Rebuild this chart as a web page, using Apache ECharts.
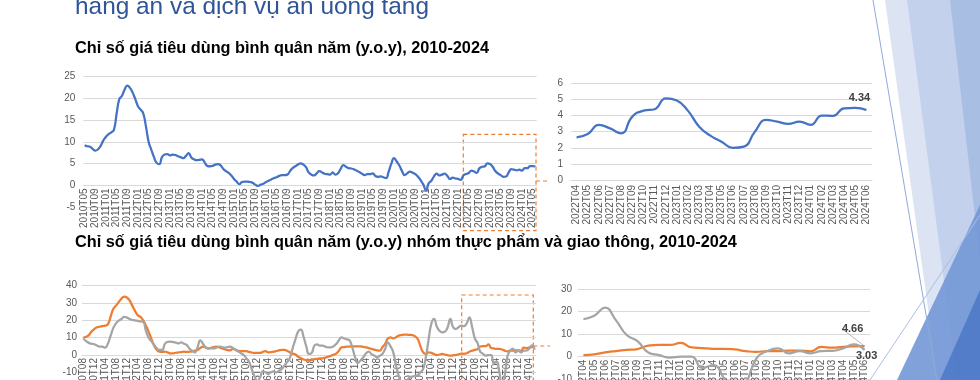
<!DOCTYPE html>
<html><head><meta charset="utf-8">
<script src="https://cdn.jsdelivr.net/npm/echarts@6/dist/echarts.min.js"></script>
<style>html,body{margin:0;padding:0;background:#fff}#c{width:980px;height:380px}</style>
</head><body><div id="c"></div>
<script>
// ---------- DATA ----------
const pageTitle = 'hàng ăn và dịch vụ ăn uống tăng';
const subtitle1 = 'Chỉ số giá tiêu dùng bình quân năm (y.o.y), 2010-2024';
const subtitle2 = 'Chỉ số giá tiêu dùng bình quân năm (y.o.y) nhóm thực phẩm và giao thông, 2010-2024';

// recent window categories 2022T04 – 2024T06
const recentMonths = ['2022T04','2022T05','2022T06','2022T07','2022T08','2022T09','2022T10','2022T11','2022T12',
  '2023T01','2023T02','2023T03','2023T04','2023T05','2023T06','2023T07','2023T08','2023T09','2023T10','2023T11','2023T12',
  '2024T01','2024T02','2024T03','2024T04','2024T05','2024T06'];

// CPI y.o.y, 2010T05 – 2022T03
const cpiHistory = [9.2,9.0,8.9,8.4,8.0,8.3,9.1,10.3,11.2,11.8,
  12.2,12.8,16.5,19.8,20.6,22.0,22.9,22.4,21.3,19.8,
  18.2,17.4,16.5,13.5,10.0,8.2,6.5,5.2,4.9,6.5,
  7.1,7.2,6.9,7.1,7.0,6.7,6.5,6.3,6.8,7.4,
  6.4,6.0,5.8,5.9,6.0,5.3,4.5,4.4,4.5,4.8,
  4.9,4.6,3.8,3.3,2.9,2.3,1.5,0.9,0.3,0.8,
  0.9,0.9,0.8,0.6,0.2,-0.1,0.2,0.4,0.8,1.1,
  1.4,1.7,1.9,2.2,2.4,2.4,2.5,3.3,4.0,4.4,
  4.8,5.1,4.8,4.2,3.0,2.5,2.3,2.8,3.3,3.0,
  2.7,2.6,2.5,3.0,2.5,2.8,3.8,4.7,4.3,4.0,
  3.9,3.7,3.4,3.1,2.7,2.4,2.6,2.6,2.8,2.2,
  2.0,2.1,1.9,1.7,3.2,5.0,6.3,5.5,4.6,3.3,
  2.4,2.8,3.2,2.9,2.6,2.0,1.2,0.2,-1.1,0.5,
  1.1,2.1,2.7,2.3,2.5,2.7,2.2,1.5,1.8,1.6,
  1.5,1.3,2.3];
// CPI y.o.y, 2022T04 – 2024T06
const cpiRecent = [2.65,2.86,3.42,3.2,2.9,3.93,4.3,4.39,5.07,4.93,4.29,3.31,2.75,2.38,2.0,2.07,3.0,3.73,3.62,3.48,3.62,3.42,4.0,3.98,4.45,4.47,4.34];

// Food (thực phẩm) y.o.y, 2010T08 – 2022T03
const foodHistory = [10.0,10.5,11.5,13.5,15.0,16.0,16.3,16.7,17.0,17.7,
  22.0,26.5,28.5,30.5,32.5,33.7,33.2,31.5,28.5,25.5,
  23.0,22.0,20.0,17.0,13.5,9.5,5.5,3.0,1.9,1.8,
  1.9,1.5,1.0,1.0,1.3,1.5,1.7,1.9,1.8,1.9,
  2.1,2.5,2.9,4.0,4.8,4.3,3.8,4.2,4.6,4.8,
  4.4,3.8,3.3,2.8,2.7,3.5,3.0,2.4,2.3,2.3,
  2.2,1.8,1.4,1.2,1.2,1.2,1.8,2.3,1.5,1.7,
  1.9,2.3,2.7,2.9,2.9,2.4,1.5,0.8,0.3,-1.0,
  -1.8,-2.6,-2.9,-3.2,-2.8,-2.4,-2.2,-2.0,-1.9,-1.5,
  -1.0,-0.5,0.2,0.8,2.5,4.4,4.6,4.8,4.9,5.0,
  5.0,5.0,5.0,4.7,4.4,4.0,3.5,3.1,2.7,2.5,
  4.5,6.5,9.5,10.2,9.6,10.2,11.2,11.5,11.7,11.7,
  11.6,11.5,10.8,9.2,5.0,1.5,0.6,1.5,1.2,0.5,
  0.0,0.3,0.6,0.3,-0.1,-0.4,-0.2,0.0,0.4,0.8];
// Transport (giao thông) y.o.y, 2010T08 – 2022T03
const transportHistory = [9.6,8.0,7.0,6.5,6.2,5.5,4.8,4.8,4.3,6.5,
  11.0,15.5,18.3,19.8,20.8,22.0,21.6,20.8,20.2,20.0,
  19.7,19.4,19.2,14.0,10.0,8.0,6.0,4.0,2.9,2.9,
  6.5,7.6,7.7,7.5,7.2,6.7,7.3,6.5,5.8,3.8,
  2.5,1.5,4.5,8.5,6.5,4.5,3.8,3.8,3.8,4.3,
  4.8,4.6,4.2,4.5,4.8,4.0,3.0,2.0,1.0,0.0,
  -2.0,-4.0,-8.5,-12.5,-15.0,-13.0,-9.5,-10.0,-11.0,-10.0,
  -9.5,-10.0,-9.0,-8.0,-6.0,-4.0,-1.5,4.0,9.0,13.5,
  14.6,10.5,5.0,0.6,1.2,5.5,6.2,5.4,5.4,4.8,
  4.4,4.4,5.0,6.3,8.5,10.2,9.5,9.0,8.3,4.0,
  -1.5,-4.6,-3.0,-1.3,1.0,1.9,0.5,-0.3,-1.3,-0.5,
  0.6,3.5,7.3,5.0,1.5,-6.0,-12.0,-16.0,-18.0,-15.0,
  -13.0,-12.5,-12.0,-11.5,-10.0,-8.0,-1.0,9.0,18.0,20.8,
  16.5,14.0,13.1,13.5,16.0,20.8,16.0,15.0,16.0,17.0];
// 2022T04 – 2024T06
const foodRecent = [0.7,1.0,1.9,2.5,3.0,3.4,4.9,5.2,5.2,6.1,4.1,3.8,3.5,3.5,3.2,2.5,2.1,2.5,2.5,2.7,2.7,2.4,4.3,4.0,4.4,4.6,4.66];
const transportRecent = [16.7,18.2,21.7,16.2,9.6,6.9,1.9,0.7,-0.4,0.0,0.0,-5.0,-3.7,-9.6,-18.0,-12.0,-0.7,2.5,3.7,1.5,2.5,1.5,2.5,2.6,3.7,5.5,3.03];

// y-axis ticks
const ticksCpiAll = {min:-5, max:25, step:5};
const ticksCpiRecent = {min:0, max:6, step:1};
const ticksGroupAll = {min:-30, max:40, step:10};
const ticksGroupRecent = {min:-30, max:30, step:10};

// month labels like 2010T05 (category names)
function months(y0, m0, y1, m1) {
  const out = [];
  let y = y0, m = m0;
  while (y < y1 || (y === y1 && m <= m1)) {
    out.push(y + 'T' + String(m).padStart(2, '0'));
    m++; if (m > 12) { m = 1; y++; }
  }
  return out;
}
const monthsCpi = months(2010, 5, 2024, 6);
const monthsGroup = months(2010, 8, 2024, 6);

// ---------- CHART ----------
const FONT = "'Liberation Sans', Arial, sans-serif";
const BLUE = '#4472C4', ORANGE = '#ED7D31', GRAY = '#A5A5A5';
const chart = echarts.init(document.getElementById('c'), null, {renderer: 'canvas'});

const grids = [
  {left: 83.3, top: 76.5, width: 453.4, height: 130.8},
  {left: 571, top: 83.3, width: 301, height: 96.7},
  {left: 82, top: 285.7, width: 454, height: 121.3},
  {left: 578, top: 289, width: 292, height: 135.4}
];
const ticks = [ticksCpiAll, ticksCpiRecent, ticksGroupAll, ticksGroupRecent];

// category axis sits on the zero line of the value axis
function xAx(gi, data, interval, margin) {
  const t = ticks[gi], g = grids[gi];
  const zeroOffset = -g.height * (0 - t.min) / (t.max - t.min);
  return {
    type: 'category', gridIndex: gi, data: data, boundaryGap: true, offset: zeroOffset,
    axisLine: {show: true, onZero: false, lineStyle: {color: '#D9D9D9', width: 1}},
    axisTick: {show: false},
    axisLabel: {rotate: 90, interval: interval, fontSize: 10, color: '#595959', fontFamily: FONT, margin: margin}
  };
}
function yAx(gi, margin) {
  const t = ticks[gi];
  return {
    type: 'value', gridIndex: gi, min: t.min, max: t.max, interval: t.step,
    axisLine: {show: false}, axisTick: {show: false},
    splitLine: {lineStyle: {color: '#D9D9D9', width: 1}},
    axisLabel: {fontSize: 10, color: '#595959', fontFamily: FONT, margin: margin}
  };
}
function lastLabel(arr, label) {
  return arr.map((v, i) => i === arr.length - 1 ? {value: v, label: Object.assign({show: true}, label)} : v);
}
const endLbl = {fontSize: 11, fontWeight: 'bold', color: '#404040', fontFamily: FONT, formatter: '{c}'};

const cpiAll = cpiHistory.concat(cpiRecent);
const foodAll = foodHistory.concat(foodRecent);
const transportAll = transportHistory.concat(transportRecent);

const option = {
  animation: false,
  backgroundColor: '#fff',
  grid: grids.map(g => Object.assign({outerBoundsMode: 'none', containLabel: false}, g)),
  xAxis: [
    xAx(0, monthsCpi, 3, 3),
    xAx(1, recentMonths, 0, 5),
    xAx(2, monthsGroup, 3, 3),
    xAx(3, recentMonths, 0, 3)
  ],
  yAxis: [yAx(0, 8), yAx(1, 8), yAx(2, 5), yAx(3, 6)],
  series: [
    {type: 'line', xAxisIndex: 0, yAxisIndex: 0, data: cpiAll, smooth: true, showSymbol: false,
      lineStyle: {color: BLUE, width: 2.25}, itemStyle: {color: BLUE}},
    {type: 'line', xAxisIndex: 1, yAxisIndex: 1, smooth: true, showSymbol: true, showAllSymbol: true, symbolSize: 0,
      data: lastLabel(cpiRecent, Object.assign({position: 'top', distance: 7, offset: [-7, 0]}, endLbl)),
      lineStyle: {color: BLUE, width: 2.25}, itemStyle: {color: BLUE}},
    {type: 'line', xAxisIndex: 2, yAxisIndex: 2, data: foodAll, smooth: true, showSymbol: false,
      lineStyle: {color: ORANGE, width: 2.25}, itemStyle: {color: ORANGE}},
    {type: 'line', xAxisIndex: 2, yAxisIndex: 2, data: transportAll, smooth: true, showSymbol: false,
      lineStyle: {color: GRAY, width: 2.25}, itemStyle: {color: GRAY}},
    {type: 'line', xAxisIndex: 3, yAxisIndex: 3, smooth: true, showSymbol: true, showAllSymbol: true, symbolSize: 0,
      data: lastLabel(foodRecent, Object.assign({position: 'top', distance: 0}, endLbl)),
      labelLayout: {dx: -12, dy: -12},
      labelLine: {show: true, lineStyle: {color: '#A6A6A6', width: 0.8}},
      lineStyle: {color: ORANGE, width: 2.25}, itemStyle: {color: ORANGE}},
    {type: 'line', xAxisIndex: 3, yAxisIndex: 3, smooth: true, showSymbol: true, showAllSymbol: true, symbolSize: 0,
      data: lastLabel(transportRecent, Object.assign({position: 'bottom', distance: 1, offset: [2, 0]}, endLbl)),
      lineStyle: {color: GRAY, width: 2.25}, itemStyle: {color: GRAY}}
  ],
  graphic: [
    // right-side decoration
    {type: 'polygon', silent: true, shape: {points: [[885,0],[980,0],[980,380],[938,380]]}, style: {fill: '#DCE4F3'}},
    {type: 'polygon', silent: true, shape: {points: [[907,0],[980,0],[980,380],[957,380]]}, style: {fill: '#C3D1EC'}},
    {type: 'polygon', silent: true, shape: {points: [[950,0],[980,0],[980,260]]}, style: {fill: '#A9BEE3'}},
    {type: 'polygon', silent: true, shape: {points: [[897,380],[980,205],[980,380]]}, style: {fill: '#7397D6', opacity: 0.9}},
    {type: 'polygon', silent: true, shape: {points: [[940,380],[980,290],[980,380]]}, style: {fill: '#4F7AC7', opacity: 0.9}},
    {type: 'line', silent: true, shape: {x1: 873, y1: 0, x2: 937, y2: 380}, style: {stroke: '#8EA9DB', lineWidth: 1}},
    {type: 'line', silent: true, shape: {x1: 870, y1: 380, x2: 980, y2: 215}, style: {stroke: '#A9BEE4', lineWidth: 1}},
    // texts
    {type: 'text', x: 75, y: 7, style: {text: pageTitle, font: '24.4px ' + FONT, fill: '#2F5597', verticalAlign: 'middle'}},
    {type: 'text', x: 75, y: 48.7, style: {text: subtitle1, font: 'bold 16.3px ' + FONT, fill: '#000', verticalAlign: 'middle'}},
    {type: 'text', x: 75, y: 242.5, style: {text: subtitle2, font: 'bold 16.3px ' + FONT, fill: '#000', verticalAlign: 'middle'}},
    // highlight boxes
    {type: 'rect', silent: true, shape: {x: 463.3, y: 134.3, width: 72.7, height: 96.4}, style: {fill: 'none', stroke: ORANGE, lineWidth: 1.2, lineDash: [4, 3]}},
    {type: 'line', silent: true, shape: {x1: 536, y1: 181, x2: 550, y2: 181}, style: {stroke: ORANGE, lineWidth: 1.2, lineDash: [4, 3]}},
    {type: 'rect', silent: true, shape: {x: 461.7, y: 295, width: 71.6, height: 100}, style: {fill: 'none', stroke: ORANGE, lineWidth: 1.2, lineDash: [4, 3]}},
    {type: 'line', silent: true, shape: {x1: 533.3, y1: 346, x2: 550, y2: 346}, style: {stroke: ORANGE, lineWidth: 1.2, lineDash: [4, 3]}}
  ]
};
chart.setOption(option);
</script>
</body></html>
